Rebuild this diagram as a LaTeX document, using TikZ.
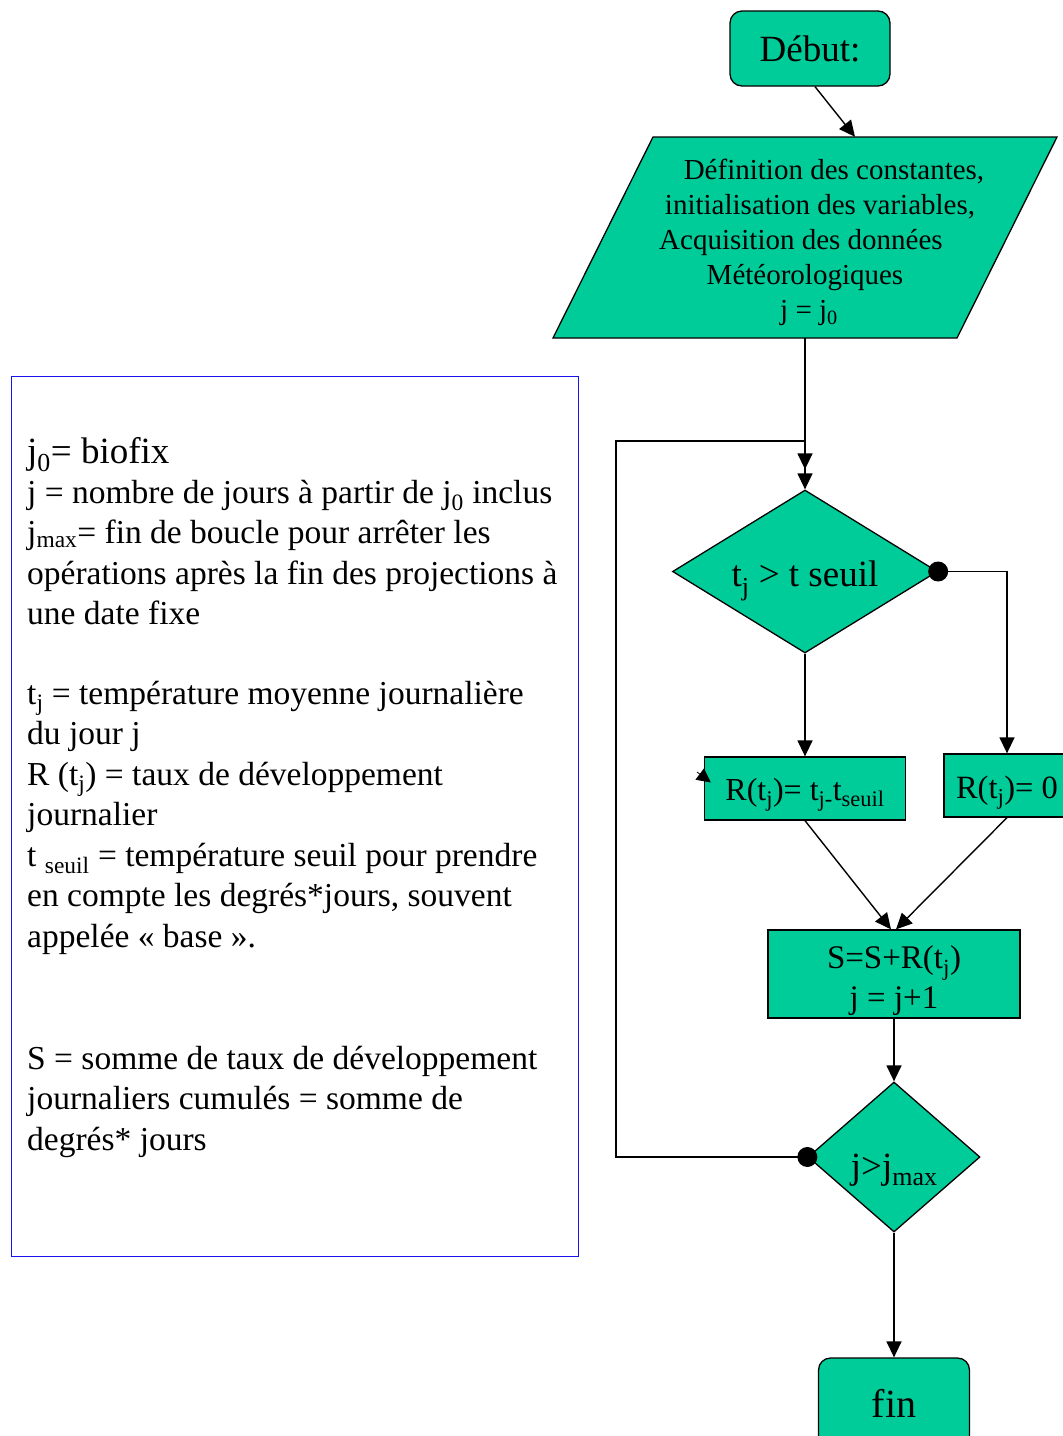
\documentclass[tikz,border=0pt]{standalone}
\usepackage{fontspec}
\setmainfont{Liberation Serif}
\usetikzlibrary{shapes.geometric,arrows.meta,calc}
\definecolor{fl}{RGB}{0,204,153}
\definecolor{legblue}{RGB}{20,20,235}
\begin{document}
\begin{tikzpicture}[x=1pt,y=-1pt,
  box/.style={draw=black, fill=fl, line width=1.3pt, inner sep=0pt},
  arr/.style={-{Triangle[length=16pt,width=15pt]}, line width=1.4pt},
  legtext/.style={anchor=base west, inner sep=0pt, font=\fontsize{33.5}{40.5}\selectfont}]
\useasboundingbox (0,0) rectangle (1063,1436);
\clip (0,0) rectangle (1063,1436);

% start
\node[box, rounded corners=12pt, minimum width=160pt, minimum height=75pt,
      font=\fontsize{37}{40}\selectfont] (debut) at (810,48.5) {Début:};

% parallelogram
\filldraw[fill=fl, line width=1.3pt] (653,137) -- (1057,137) -- (957,338) -- (553,338) -- cycle;
\node[inner sep=0pt, minimum width=404pt, minimum height=201pt] (def) at (805,237.5) {};
\node[inner sep=0pt, align=center, font=\fontsize{29}{35}\selectfont] (deftext) at (805,242.5)
  {\hspace*{58pt}Définition des constantes,\\\hspace*{30pt}initialisation des variables,\\\hspace*{-8pt}Acquisition des données\\Météorologiques\\\hspace*{8pt}j = j\textsubscript{0}};

% decision 1
\node[box, diamond, aspect=1.63, minimum width=265pt, minimum height=163pt,
      text height=30pt, text depth=0pt,
      font=\fontsize{37}{40}\selectfont] (d1) at (805,571.5) {t\textsubscript{j} > t seuil};

% process boxes
\node[box, minimum width=201pt, minimum height=63pt, text height=23pt, text depth=0pt,
      font=\fontsize{32}{34}\selectfont] (r1) at (805,788.5)
  {R(t\textsubscript{j})= t\textsubscript{j-}t\textsubscript{seuil}};
\node[box, minimum width=126pt, minimum height=63pt, text height=25pt, text depth=0pt,
      font=\fontsize{32.5}{34}\selectfont] (r0) at (1007,785.5)
  {R(t\textsubscript{j})= 0};
\node[box, minimum width=252pt, minimum height=88pt] (s) at (894,974) {};
\node[inner sep=0pt, align=center, font=\fontsize{33}{40}\selectfont] (stext) at (894,980.5)
  {S=S+R(t\textsubscript{j})\\j = j+1};

% decision 2
\node[box, diamond, aspect=1.15, minimum width=172pt, minimum height=150pt,
      text height=42pt, text depth=0pt,
      font=\fontsize{37}{40}\selectfont] (d2) at (894,1157)
  {j>j\raisebox{-7pt}{\fontsize{26}{26}\selectfont max}};

% end
\node[box, rounded corners=12pt, minimum width=151pt, minimum height=90pt,
      font=\fontsize{40}{44}\selectfont] (fin) at (894,1403) {fin};

% legend box
\node[draw=legblue, line width=1pt, minimum width=567pt, minimum height=880pt, inner sep=0pt]
  (legend) at (294.5,816) {};
\node[anchor=base west, inner sep=0pt, font=\fontsize{37}{42}\selectfont] (lg0) at (27,463)
  {j\textsubscript{0}= biofix};
\node[legtext] (lg1) at (27,503) {\parbox[t]{600pt}{\raggedright
  j = nombre de jours à partir de j\textsubscript{0} inclus\\
  j\textsubscript{max}= fin de boucle pour arrêter les\\
  opérations après la fin des projections à\\
  une date fixe}};
\node[legtext] (lg2) at (27,704) {\parbox[t]{600pt}{\raggedright
  t\textsubscript{j} = température moyenne journalière\\
  du jour j\\
  R (t\textsubscript{j}) = taux de développement\\
  journalier\\
  t \textsubscript{seuil} = température seuil pour prendre\\
  en compte les degrés*jours, souvent\\
  appelée « base ».}};
\node[legtext] (lg3) at (27,1069) {\parbox[t]{600pt}{\raggedright
  S = somme de taux de développement\\
  journaliers cumulés = somme de\\
  degrés* jours}};

% connectors
\draw[arr] ($(debut.south)+(5,0)$) -- ($(def.north)+(50,0)$);
\draw[arr] (def.south) -- (d1.north);
\coordinate (loopend) at ($(d1.north)+(0,-20)$);
\coordinate (loopL) at (616,441);
\draw[arr] (d2.west) -| (loopL) -- (loopL -| d1.north) -- (loopend);
\fill (d2.west) circle (10pt);
\draw[arr] (d1.east) -| (r0.north);
\fill (d1.east) circle (10pt);
\draw[arr] (d1.south) -- (r1.north);
\draw[arr] (r1.south) -- ($(s.north)+(-3,0)$);
\draw[arr] (r0.south) -- ($(s.north)+(2,0)$);
\draw[arr] (s.south) -- (d2.north);
\draw[arr] (d2.south) -- (fin.north);
\coordinate (stray) at (697,772);
\draw[-{Triangle[length=14pt,width=14pt]}, line width=0.8pt] (stray) -- ($(r1.west)+(7,-6)$);
\end{tikzpicture}
\end{document}
